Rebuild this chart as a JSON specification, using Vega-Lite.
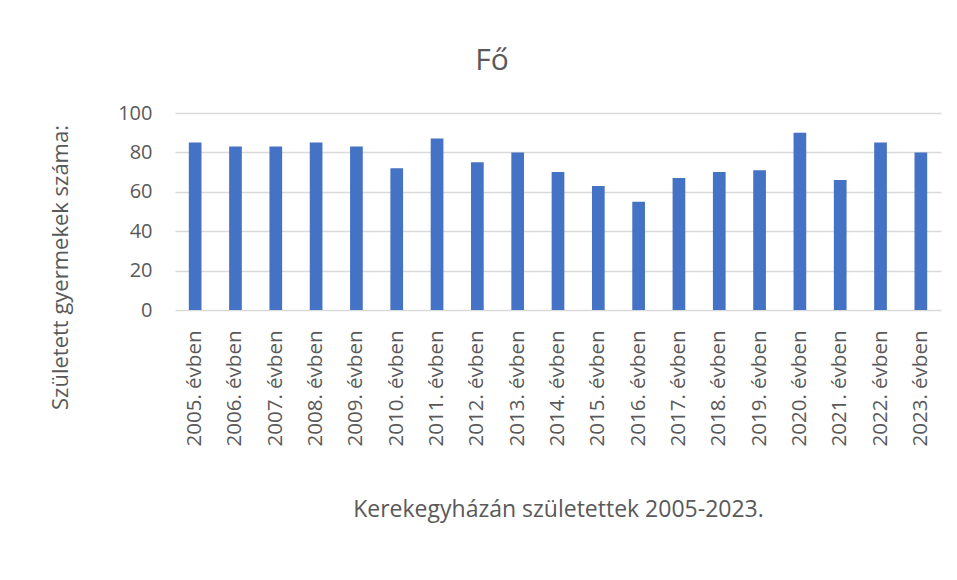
{
  "$schema": "https://vega.github.io/schema/vega-lite/v6.json",
  "width": 766,
  "height": 197,
  "autosize": "none",
  "padding": {"left": 175, "top": 113, "right": 16, "bottom": 270},
  "background": "white",
  "title": {
    "text": "Fő",
    "fontSize": 30,
    "font": "Open Sans",
    "fontWeight": "normal",
    "color": "#595959",
    "baseline": "alphabetic",
    "offset": 3,
    "dx": -66
  },
  "data": {
    "values": [
      {"ev": "2005. évben", "fo": 85},
      {"ev": "2006. évben", "fo": 83},
      {"ev": "2007. évben", "fo": 83},
      {"ev": "2008. évben", "fo": 85},
      {"ev": "2009. évben", "fo": 83},
      {"ev": "2010. évben", "fo": 72},
      {"ev": "2011. évben", "fo": 87},
      {"ev": "2012. évben", "fo": 75},
      {"ev": "2013. évben", "fo": 80},
      {"ev": "2014. évben", "fo": 70},
      {"ev": "2015. évben", "fo": 63},
      {"ev": "2016. évben", "fo": 55},
      {"ev": "2017. évben", "fo": 67},
      {"ev": "2018. évben", "fo": 70},
      {"ev": "2019. évben", "fo": 71},
      {"ev": "2020. évben", "fo": 90},
      {"ev": "2021. évben", "fo": 66},
      {"ev": "2022. évben", "fo": 85},
      {"ev": "2023. évben", "fo": 80}
    ]
  },
  "mark": {"type": "bar", "color": "#4472C4"},
  "encoding": {
    "x": {
      "field": "ev",
      "type": "nominal",
      "sort": null,
      "scale": {"paddingInner": 0.685, "paddingOuter": 0.3425},
      "axis": {
        "title": "Kerekegyházán születettek 2005-2023.",
        "titleFontSize": 23,
        "titleFont": "Open Sans",
        "titleFontWeight": "normal",
        "titleColor": "#595959",
        "titleBaseline": "alphabetic",
        "titleY": 206,
        "labelAngle": -90,
        "labelFontSize": 20.5,
        "labelFont": "Open Sans",
        "labelColor": "#595959",
        "labelPadding": 20,
        "ticks": false,
        "domain": false,
        "grid": false
      }
    },
    "y": {
      "field": "fo",
      "type": "quantitative",
      "scale": {"domain": [0, 100]},
      "axis": {
        "title": "Született gyermekek száma:",
        "titleFontSize": 22,
        "titleFont": "Open Sans",
        "titleFontWeight": "normal",
        "titleColor": "#595959",
        "titleBaseline": "alphabetic",
        "titleX": -108,
        "titleY": 154,
        "values": [0, 20, 40, 60, 80, 100],
        "labelFontSize": 20,
        "labelFont": "Open Sans",
        "labelColor": "#595959",
        "labelPadding": 23,
        "ticks": false,
        "domain": false,
        "grid": true,
        "gridColor": "#D9D9D9",
        "gridWidth": 1.3
      }
    }
  },
  "config": {"view": {"stroke": null}}
}
